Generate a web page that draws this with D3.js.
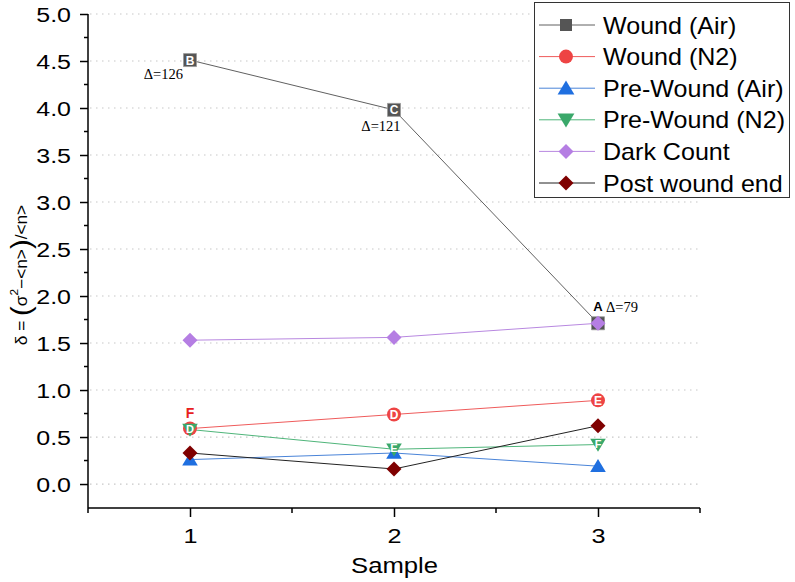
<!DOCTYPE html>
<html><head><meta charset="utf-8">
<script src="https://cdn.jsdelivr.net/npm/d3@7/dist/d3.min.js"></script>
<style>body{margin:0;background:#fff}svg{display:block;font-family:"Liberation Sans",Arial,sans-serif}</style>
</head><body>
<svg id="c" width="795" height="582"></svg>
<script>
const samples = [1, 2, 3];
const woundAir = [4.51, 3.98, 1.71];
const woundN2 = [0.59, 0.74, 0.89];
const preWoundAir = [0.26, 0.33, 0.19];
const preWoundN2 = [0.58, 0.37, 0.42];
const darkCount = [1.53, 1.56, 1.71];
const postWoundEnd = [0.33, 0.16, 0.62];
const seriesNames = ["Wound (Air)", "Wound (N2)", "Pre-Wound (Air)", "Pre-Wound (N2)", "Dark Count", "Post wound end"];
const woundAirLetters = ["B", "C", "A"];
const woundN2Letters = ["F", "D", "E"];
const preWoundN2Letters = ["D", "E", "F"];
const deltaLabels = ["Δ=126", "Δ=121", "Δ=79"];
const yTicks = [0, 0.5, 1, 1.5, 2, 2.5, 3, 3.5, 4, 4.5, 5];
const xTicks = [1, 2, 3];

const svg = d3.select("#c");
const x = d3.scaleLinear().domain([0.5, 3.5]).range([88, 700]);
const y = d3.scaleLinear().domain([-0.255, 5]).range([508, 14]);

// grid
svg.append("g").selectAll("line").data(yTicks).join("line")
  .attr("x1", 90).attr("x2", 700).attr("y1", d => y(d)).attr("y2", d => y(d))
  .attr("stroke", "#c8c8c8").attr("stroke-width", 1.2).attr("stroke-dasharray", "1.5,4.5");

// axes
const yAxis = d3.axisLeft(y).tickValues(yTicks).tickFormat(d3.format(".1f")).tickSize(8).tickSizeOuter(0);
const gy = svg.append("g").attr("transform", "translate(88,0)").call(yAxis);
gy.select(".domain").remove();
gy.append("line").attr("x1", 0).attr("x2", 0).attr("y1", y(5)).attr("y2", 508).attr("stroke", "#000").attr("stroke-width", 1.5);
gy.selectAll(".tick line").attr("stroke-width", 1.5);
gy.selectAll(".tick text").attr("font-size", 20).attr("fill", "#000").attr("x", -13.6).attr("dy", "0.35em")
  .attr("transform", "scale(1.25,1)").attr("font-family", "Liberation Sans, Arial, sans-serif");
const yMinor = d3.range(0, 5, 0.5).map(d => d + 0.25);
svg.append("g").selectAll("line").data(yMinor).join("line")
  .attr("x1", 84).attr("x2", 88).attr("y1", d => y(d)).attr("y2", d => y(d)).attr("stroke", "#000").attr("stroke-width", 1.5);

const xAxis = d3.axisBottom(x).tickValues(xTicks).tickFormat(d3.format("d")).tickSize(9).tickSizeOuter(0);
const gx = svg.append("g").attr("transform", "translate(0,508)").call(xAxis);
gx.select(".domain").attr("stroke-width", 1.5).attr("d", "M88,0H700");
gx.selectAll(".tick line").attr("stroke-width", 1.5);
gx.selectAll(".tick text").attr("font-size", 21).attr("fill", "#000").attr("y", 35).attr("dy", null)
  .attr("transform", "scale(1.2,1)").attr("font-family", "Liberation Sans, Arial, sans-serif");
svg.append("g").selectAll("line").data([0.5, 1.5, 2.5, 3.5]).join("line")
  .attr("x1", d => x(d)).attr("x2", d => x(d)).attr("y1", 508).attr("y2", 513).attr("stroke", "#000").attr("stroke-width", 1.5);

svg.append("text").attr("transform", "translate(394.5,573) scale(1.14,1)").attr("text-anchor", "middle").attr("font-size", 22.5).text("Sample");

// y label
const yl = svg.append("text").attr("transform", "translate(27,275) rotate(-90) scale(1.08,1)").attr("text-anchor", "middle").attr("font-size", 16);
yl.append("tspan").text("δ = ");
yl.append("tspan").attr("font-size", 27).attr("dy", 3).text("(");
yl.append("tspan").attr("dy", -3).text("σ");
yl.append("tspan").attr("font-size", 11).attr("dy", -9).text("2");
yl.append("tspan").attr("dy", 9).text("−<n>");
yl.append("tspan").attr("font-size", 27).attr("dy", 3).text(")");
yl.append("tspan").attr("dy", -3).text("/<n>");

const series = [
  {name: seriesNames[0], vals: woundAir, line: "#606060", fill: "#555555", shape: "square"},
  {name: seriesNames[1], vals: woundN2, line: "#ef5b5b", fill: "#ee4444", shape: "circle"},
  {name: seriesNames[2], vals: preWoundAir, line: "#4a84d8", fill: "#1f6fe0", shape: "triangle"},
  {name: seriesNames[3], vals: preWoundN2, line: "#4fb57a", fill: "#3aa86a", shape: "down"},
  {name: seriesNames[4], vals: darkCount, line: "#b888e0", fill: "#b57ee3", shape: "diamond"},
  {name: seriesNames[5], vals: postWoundEnd, line: "#222222", fill: "#7f0000", shape: "diamond"}
];

function markerPath(shape, s) {
  if (shape === "square") return d3.symbol(d3.symbolSquare, s * s)();
  if (shape === "circle") return d3.symbol(d3.symbolCircle, Math.PI * (s / 2) * (s / 2))();
  if (shape === "triangle") return `M0,${-s*0.55}L${s*0.6},${s*0.45}L${-s*0.6},${s*0.45}Z`;
  if (shape === "down") return `M0,${s*0.55}L${s*0.6},${-s*0.45}L${-s*0.6},${-s*0.45}Z`;
  if (shape === "diamond") return `M0,${-s*0.6}L${s*0.6},0L0,${s*0.6}L${-s*0.6},0Z`;
}

const line = d3.line().x((d, i) => x(samples[i])).y(d => y(d));
series.forEach(s => {
  svg.append("path").attr("d", line(s.vals)).attr("fill", "none").attr("stroke", s.line).attr("stroke-width", 1);
});
const sizes = {square: 13, circle: 14, triangle: 13, down: 13, diamond: 12.5};
const legendSizes = {square: 12, circle: 14, triangle: 14, down: 14, diamond: 12.5};
[0, 4, 2, 5, 1, 3].forEach(k => {
  const s = series[k];
  svg.append("g").selectAll("path").data(s.vals).join("path")
    .attr("transform", (d, i) => `translate(${x(samples[i])},${y(d)})`)
    .attr("d", markerPath(s.shape, sizes[s.shape])).attr("fill", s.fill)
    .attr("stroke", k === 0 ? "#999" : "none").attr("stroke-width", 0.8);
});

// letters in markers
function letter(xv, yv, t, col, dx, dy, fs) {
  svg.append("text").attr("x", x(xv) + dx).attr("y", y(yv) + dy).attr("text-anchor", "middle")
    .attr("font-size", fs).attr("font-weight", "bold").attr("fill", col).text(t);
}
letter(1, woundAir[0], woundAirLetters[0], "#fff", 0, 4.5, 12);
letter(2, woundAir[1], woundAirLetters[1], "#fff", 0, 4.5, 12);
letter(3, woundAir[2], woundAirLetters[2], "#000", 0, -12, 13);
letter(1, woundN2[0], woundN2Letters[0], "#e82020", 0, -11, 14);
letter(2, woundN2[1], woundN2Letters[1], "#fff", 0, 4.5, 12);
letter(3, woundN2[2], woundN2Letters[2], "#fff", 0, 4.5, 12);
letter(1, preWoundN2[0], preWoundN2Letters[0], "#fff", 0, 3, 11);
letter(2, preWoundN2[1], preWoundN2Letters[1], "#fff", 0, 3, 11);
letter(3, preWoundN2[2], preWoundN2Letters[2], "#fff", 0, 3, 11);

// delta labels
const dl = [[1, woundAir[0], -7, 19, "end"], [2, woundAir[1], -13, 21.5, "middle"], [3, woundAir[2], 8, -11, "start"]];
dl.forEach((d, i) => {
  svg.append("text").attr("x", x(d[0]) + d[2]).attr("y", y(d[1]) + d[3])
    .attr("text-anchor", d[4]).attr("font-family", "Liberation Serif, Times New Roman, serif").attr("font-size", 14.5)
    .text(deltaLabels[i]);
});

// legend
const lg = svg.append("g");
lg.append("rect").attr("x", 534.5).attr("y", 2.5).attr("width", 255).attr("height", 195)
  .attr("fill", "#fff").attr("stroke", "#333").attr("stroke-width", 1);
series.forEach((s, i) => {
  const yy = 25 + i * 31.6;
  lg.append("line").attr("x1", 539).attr("x2", 595).attr("y1", yy).attr("y2", yy).attr("stroke", s.line).attr("stroke-width", 1);
  lg.append("path").attr("transform", `translate(566,${yy})`).attr("d", markerPath(s.shape, legendSizes[s.shape])).attr("fill", s.fill);
  lg.append("text").attr("transform", `translate(603,${yy + 8.5}) scale(1.09,1)`).attr("font-size", 23).attr("fill", "#000").text(s.name);
});
</script>
</body></html>
